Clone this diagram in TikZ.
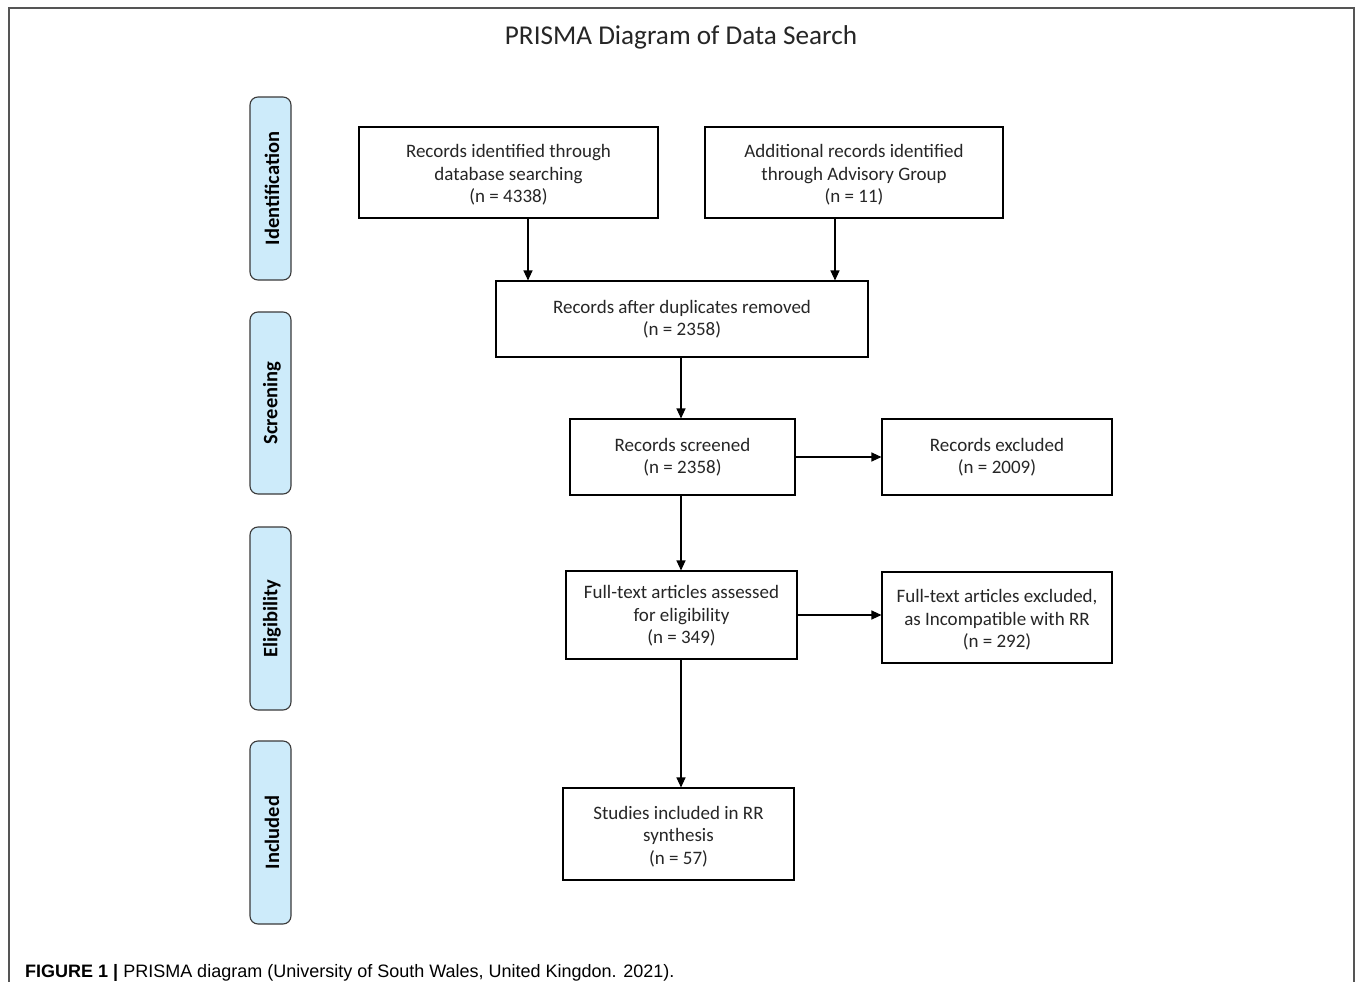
\documentclass[tikz,border=0pt]{standalone}
\usepackage{fontspec}
\setmainfont{Carlito}
\newfontfamily\capfont{Liberation Sans}
\usetikzlibrary{arrows.meta}
\definecolor{sidefill}{HTML}{CDEBFA}
\definecolor{sideline}{HTML}{3A3A3A}
\definecolor{framegray}{HTML}{555555}
\begin{document}
\begin{tikzpicture}[x=1pt,y=-1pt,
  box/.style={draw=black, line width=1.1pt, fill=white, inner sep=0pt},
  boxtext/.style={inner sep=0pt, align=center,
    font=\fontsize{19}{22.5}\selectfont, text=black!85},
  side/.style={draw=sideline, line width=1.1pt, fill=sidefill, rounded corners=8pt,
    minimum width=41pt, inner sep=0pt},
  sidetext/.style={rotate=90, font=\bfseries\fontsize{20.5}{24}\selectfont},
  arr/.style={line width=1.1pt, -{Triangle[length=10pt,width=9pt]}}]
\useasboundingbox (0,0) rectangle (1355,982);
\fill[white] (0,0) rectangle (1355,982);
% frame
\draw[framegray, line width=1.4pt] (9,982) -- (9,8) -- (1354,8) -- (1354,982);
% title
\node[font=\fontsize{27.2}{30}\selectfont, text=black!85] (title) at (681,37) {PRISMA Diagram of Data Search};
% side labels
\node[side, minimum height=183pt] (s1) at (270.5,188.5) {};
\node[sidetext] (s1t) at ([xshift=1.5pt]s1.center) {Identification};
\node[side, minimum height=182pt] (s2) at (270.5,403) {};
\node[sidetext] (s2t) at ([xshift=1.5pt]s2.center) {Screening};
\node[side, minimum height=183pt] (s3) at (270.5,618.5) {};
\node[sidetext] (s3t) at ([xshift=1.5pt]s3.center) {Eligibility};
\node[side, minimum height=183pt] (s4) at (270.5,832.5) {};
\node[sidetext] (s4t) at ([xshift=1.5pt]s4.center) {Included};
% boxes
\node[box, minimum width=299pt, minimum height=91pt] (A) at (508.5,172.5) {};
\node[boxtext] (At) at ([yshift=-2.5pt]A.center) {Records identified through\\database searching\\(n = 4338)};
\node[box, minimum width=298pt, minimum height=91pt] (B) at (854,172.5) {};
\node[boxtext] (Bt) at ([yshift=-2.5pt]B.center) {Additional records identified\\through Advisory Group\\(n = 11)};
\node[box, minimum width=372pt, minimum height=76pt] (C) at (682,319) {};
\node[boxtext] (Ct) at (C.center) {Records after duplicates removed\\(n = 2358)};
\node[box, minimum width=225pt, minimum height=76pt] (D) at (682.5,457) {};
\node[boxtext] (Dt) at (D.center) {Records screened\\(n = 2358)};
\node[box, minimum width=230pt, minimum height=76pt] (E) at (997,457) {};
\node[boxtext] (Et) at (E.center) {Records excluded\\(n = 2009)};
\node[box, minimum width=231pt, minimum height=88pt] (F) at (681.5,615) {};
\node[boxtext] (Ft) at ([yshift=-1pt]F.center) {Full-text articles assessed\\for eligibility\\(n = 349)};
\node[box, minimum width=230pt, minimum height=91pt] (G) at (997,617.5) {};
\node[boxtext] (Gt) at ([yshift=-2.5pt]G.center) {Full-text articles excluded,\\as Incompatible with RR\\(n = 292)};
\node[box, minimum width=231pt, minimum height=92pt] (H) at (678.5,834) {};
\node[boxtext] (Ht) at ([yshift=-2.5pt]H.center) {Studies included in RR\\synthesis\\(n = 57)};
% connectors
\coordinate (xa) at (528,0);
\coordinate (xb) at (835,0);
\coordinate (xm) at (681,0);
\draw[arr] (A.south -| xa) -- (C.north -| xa);
\draw[arr] (B.south -| xb) -- (C.north -| xb);
\draw[arr] (C.south -| xm) -- (D.north -| xm);
\draw[arr] (D.east) -- (E.west |- D.east);
\draw[arr] (D.south -| xm) -- (F.north -| xm);
\draw[arr] (F.east) -- (G.west |- F.east);
\draw[arr] (F.south -| xm) -- (H.north -| xm);
% caption
\node[anchor=base west, inner sep=0pt, font=\capfont\fontsize{18}{21}\selectfont] (cap) at (25,977)
  {\textbf{FIGURE 1 |} PRISMA diagram (University of South Wales, United Kingdon. 2021).};
\end{tikzpicture}
\end{document}
